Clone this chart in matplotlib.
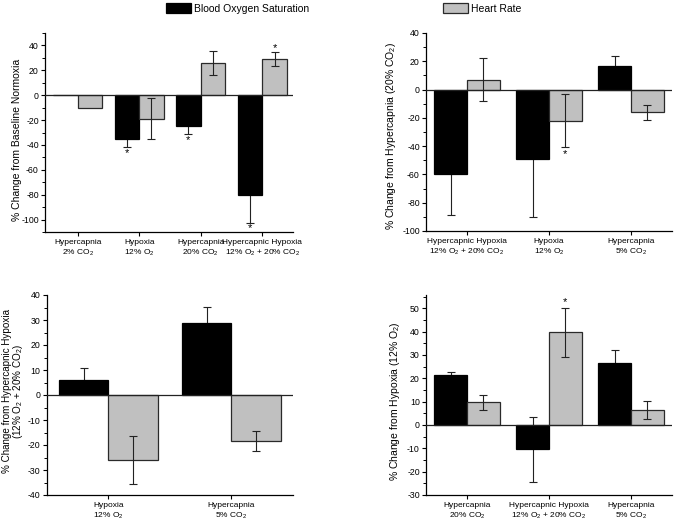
import numpy as np
import matplotlib
matplotlib.use("Agg")
import matplotlib.pyplot as plt
from matplotlib.ticker import MultipleLocator
from matplotlib.transforms import ScaledTranslation

plt.rcParams['font.family'] = ['Liberation Sans', 'DejaVu Sans']
plt.rcParams['mathtext.fontset'] = 'custom'
plt.rcParams['mathtext.rm'] = 'Liberation Sans'
plt.rcParams['mathtext.it'] = 'Liberation Sans'
plt.rcParams['axes.unicode_minus'] = False

# ---------------- data ----------------
series_names = ["Blood Oxygen Saturation", "Heart Rate"]

p1_categories = ["Hypercapnia\n2% CO$_2$", "Hypoxia\n12% O$_2$", "Hypercapnia\n20% CO$_2$",
                 "Hypercapnic Hypoxia\n12% O$_2$ + 20% CO$_2$"]
p1_spo2 = [0, -35, -25, -80.5]
p1_spo2_err = [0, 7, 6, 22]
p1_hr = [-10, -19, 26, 29]
p1_hr_err = [0, 16.5, 9.5, 5.4]
p1_star_spo2 = [None, -46.5, -36, -107]
p1_star_hr = [None, None, None, 37.5]
p1_ylabel = "% Change from Baseline Normoxia"

p2_categories = ["Hypercapnic Hypoxia\n12% O$_2$ + 20% CO$_2$", "Hypoxia\n12% O$_2$", "Hypercapnia\n5% CO$_2$"]
p2_spo2 = [-60, -48.8, 16.5]
p2_spo2_err = [28.5, 41, 7.5]
p2_hr = [7, -22, -16.2]
p2_hr_err = [15.3, 18.8, 5.1]
p2_star_spo2 = [None, None, None]
p2_star_hr = [None, -45.5, None]
p2_ylabel = "% Change from Hypercapnia (20% CO$_2$)"

p3_categories = ["Hypoxia\n12% O$_2$", "Hypercapnia\n5% CO$_2$"]
p3_spo2 = [6, 29]
p3_spo2_err = [4.8, 6.4]
p3_hr = [-26, -18.3]
p3_hr_err = [9.5, 4.1]
p3_star_spo2 = [None, None]
p3_star_hr = [None, None]
p3_ylabel = "% Change from Hypercapnic Hypoxia\n(12% O$_2$ + 20% CO$_2$)"

p4_categories = ["Hypercapnia\n20% CO$_2$", "Hypercapnic Hypoxia\n12% O$_2$ + 20% CO$_2$", "Hypercapnia\n5% CO$_2$"]
p4_spo2 = [21.5, -10.5, 26.5]
p4_spo2_err = [1, 14, 5.8]
p4_hr = [9.8, 39.7, 6.3]
p4_hr_err = [3.2, 10.5, 3.9]
p4_star_spo2 = [None, None, None]
p4_star_hr = [None, 52.5, None]
p4_ylabel = "% Change from Hypoxia (12% O$_2$)"

# ---------------- styling ----------------
BLACK = "#000000"
GREY = "#c0c0c0"
EDGE = "#2a2a2a"
W = 0.4

fig = plt.figure(figsize=(6.75, 5.27), dpi=100)

def px_axes(left, top, right, bottom):
    return fig.add_axes([left / 675, (527 - bottom) / 527, (right - left) / 675, (bottom - top) / 527])

def panel(ax, cats, s1, e1, s2, e2, st1, st2, ylabel, ylim, xlim, major, minor,
          label_xy, label_size=7.5, label_ls=1.0, cat_shift=None):
    x = np.arange(1, len(cats) + 1)
    b1 = ax.bar(x - W / 2, s1, W, color=BLACK, edgecolor=BLACK, linewidth=0.9, zorder=2)
    b2 = ax.bar(x + W / 2, s2, W, color=GREY, edgecolor=EDGE, linewidth=0.9, zorder=2)
    for xs, vals, errs, z in ((x - W / 2, s1, e1, 1.5), (x + W / 2, s2, e2, 3)):
        for xi, v, e in zip(xs, vals, errs):
            if e > 0:
                ax.errorbar(xi, v, yerr=e, fmt='none', ecolor="#222222", elinewidth=0.8,
                            capsize=2.6, capthick=0.8, zorder=z)
    for xs, stars in ((x - W / 2, st1), (x + W / 2, st2)):
        for xi, sy in zip(xs, stars):
            if sy is not None:
                ax.text(xi, sy, "*", ha='center', va='center', fontsize=8, zorder=4)
    ax.axhline(0, color="#222222", linewidth=0.9, zorder=4)
    ax.set_xlim(*xlim)
    ax.set_ylim(*ylim)
    ax.set_xticks(x)
    ax.set_xticklabels(cats, fontsize=6, linespacing=1.25)
    if cat_shift is not None:
        for lab, dx in zip(ax.get_xticklabels(), cat_shift):
            lab.set_transform(lab.get_transform() + ScaledTranslation(dx / 100, 0, fig.dpi_scale_trans))
    ax.yaxis.set_major_locator(MultipleLocator(major))
    ax.yaxis.set_minor_locator(MultipleLocator(minor))
    ax.tick_params(axis='y', which='major', labelsize=6.3, length=3, width=0.8, pad=1.5)
    ax.tick_params(axis='y', which='minor', length=2, width=0.7)
    ax.tick_params(axis='x', which='major', length=3, width=0.8, pad=2)
    ax.spines['top'].set_visible(False)
    ax.spines['right'].set_visible(False)
    ax.spines['left'].set_linewidth(0.9)
    ax.spines['bottom'].set_linewidth(0.9)
    ax.set_ylabel(ylabel, fontsize=label_size, linespacing=label_ls)
    ax.yaxis.set_label_coords(*label_xy)
    return b1, b2

ax1 = px_axes(45, 33, 293, 232)
b1, b2 = panel(ax1, p1_categories, p1_spo2, p1_spo2_err, p1_hr, p1_hr_err, p1_star_spo2, p1_star_hr,
               p1_ylabel, (-110, 50), (0.47, 4.5), 20, 10, (-0.093, 0.462),
               cat_shift=[0, -3, -4, 6])

ax2 = px_axes(426, 33, 672, 231)
panel(ax2, p2_categories, p2_spo2, p2_spo2_err, p2_hr, p2_hr_err, p2_star_spo2, p2_star_hr,
      p2_ylabel, (-100, 40), (0.5, 3.5), 20, 10, (-0.114, 0.48))

ax3 = px_axes(46.7, 295, 293, 495)
panel(ax3, p3_categories, p3_spo2, p3_spo2_err, p3_hr, p3_hr_err, p3_star_spo2, p3_star_hr,
      p3_ylabel, (-40, 40), (0.5, 2.5), 10, 5, (-0.088, 0.52), label_size=7.1, label_ls=0.9)

ax4 = px_axes(426, 295, 672, 495)
panel(ax4, p4_categories, p4_spo2, p4_spo2_err, p4_hr, p4_hr_err, p4_star_spo2, p4_star_hr,
      p4_ylabel, (-30, 55.7), (0.5, 3.5), 10, 5, (-0.098, 0.47))

# legends
fig.legend([b1], [series_names[0]], loc='upper left', bbox_to_anchor=(164 / 675, 0.998),
           frameon=False, fontsize=7.5, handlelength=2.4, handleheight=1.1, handletextpad=0.3,
           borderaxespad=0.0, borderpad=0.2)
fig.legend([b2], [series_names[1]], loc='upper left', bbox_to_anchor=(441 / 675, 0.998),
           frameon=False, fontsize=7.5, handlelength=2.4, handleheight=1.1, handletextpad=0.3,
           borderaxespad=0.0, borderpad=0.2)

fig.savefig("out.png", dpi=100)
